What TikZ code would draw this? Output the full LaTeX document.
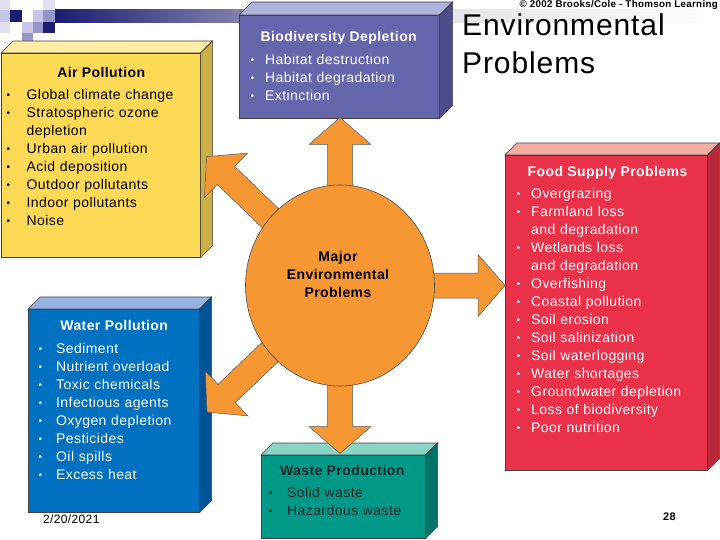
\documentclass[tikz,border=0pt]{standalone}
\usepackage{fontspec}
\setmainfont{Liberation Sans}[LetterSpace=3.0]
\usetikzlibrary{shapes.geometric}
\setlength\parindent{0pt}

\definecolor{navy}{RGB}{28,28,112}
\definecolor{lavA}{RGB}{224,224,242}
\definecolor{lavB}{RGB}{198,198,232}
\definecolor{lavC}{RGB}{150,150,205}
\definecolor{barend}{RGB}{226,226,230}
\definecolor{airfront}{RGB}{253,217,86}
\definecolor{airtop}{RGB}{255,237,165}
\definecolor{airside}{RGB}{205,175,72}
\definecolor{biofront}{RGB}{102,102,172}
\definecolor{biotop}{RGB}{178,178,222}
\definecolor{bioside}{RGB}{76,76,138}
\definecolor{waterfront}{RGB}{0,112,192}
\definecolor{watertop}{RGB}{150,180,226}
\definecolor{waterside}{RGB}{0,84,150}
\definecolor{foodfront}{RGB}{233,49,73}
\definecolor{foodtop}{RGB}{245,172,162}
\definecolor{foodside}{RGB}{186,40,60}
\definecolor{wastefront}{RGB}{0,153,136}
\definecolor{wastetop}{RGB}{138,212,198}
\definecolor{wasteside}{RGB}{0,115,104}
\definecolor{arroworange}{RGB}{247,151,51}

\newcommand\bul[1]{\makebox[#1pt][l]{\hspace*{0.8pt}\raisebox{1.1pt}{\fontsize{10}{10}\selectfont •}}}
\newcommand\boxfaces[4]{%
  \filldraw[boxface, fill=#3] (#1.north west) -- ++(#2,-#2) -- ([shift={(#2,-#2)}]#1.north east) -- (#1.north east) -- cycle;
  \filldraw[boxface, fill=#4] (#1.north east) -- ++(#2,-#2) -- ([shift={(#2,-#2)}]#1.south east) -- (#1.south east) -- cycle;
}
\newcommand\blockarrow[3]{%
  \begin{scope}[shift={(#1)}, rotate=#2]
    \filldraw[bigarrow] (0,-12.5) -- (#3-27,-12.5) -- (#3-27,-31) -- (#3,0) -- (#3-27,31) -- (#3-27,12.5) -- (0,12.5) -- cycle;
  \end{scope}}

\tikzset{
  boxface/.style={draw=black!75, line width=0.6pt, line join=miter},
  frontface/.style={boxface, rectangle, inner sep=0pt, anchor=north west},
  heading/.style={font=\fontsize{14}{18}\selectfont\bfseries, inner sep=0pt, anchor=base},
  items/.style={font=\fontsize{14}{18}\selectfont, inner sep=0pt, anchor=base west, align=left, text width=200pt},
  bigarrow/.style={fill=arroworange, draw=black!65, line width=0.5pt, line join=miter},
}

\begin{document}
\begin{tikzpicture}[x=1pt,y=-1pt]
\useasboundingbox (0,0) rectangle (720,540);
\fill[white] (0,0) rectangle (720,540);

% top decoration
\shade[left color=navy, right color=barend] (55,10) rectangle (420,23);
\shade[left color=barend, right color=white] (420,10) rectangle (720,23);
\fill[lavA] (0,0) rectangle (10,10);
\fill[lavB] (0,10) rectangle (10,22);
\fill[lavA] (0,22) rectangle (10,33);
\fill[navy] (10,10) rectangle (22,22);
\fill[lavB] (22,22) rectangle (33,33);
\fill[lavC] (22,33) rectangle (33,42);
\fill[lavB] (33,10) rectangle (43,22);
\fill[lavC] (33,22) rectangle (43,33);
\fill[lavA] (43,0) rectangle (55,10);
\fill[lavC] (43,10) rectangle (55,22);
\fill[navy] (43,22) rectangle (55,33);

% boxes
\node[frontface, fill=airfront, minimum width=199pt, minimum height=204pt] (air) at (1,53) {};
\boxfaces{air}{12}{airtop}{airside}
\node[frontface, fill=biofront, minimum width=200pt, minimum height=103pt] (bio) at (239,15) {};
\boxfaces{bio}{13}{biotop}{bioside}
\node[frontface, fill=waterfront, minimum width=171pt, minimum height=203pt] (water) at (28,309) {};
\boxfaces{water}{12}{watertop}{waterside}
\node[frontface, fill=foodfront, minimum width=202pt, minimum height=315pt] (food) at (505,155) {};
\boxfaces{food}{12}{foodtop}{foodside}
\node[frontface, fill=wastefront, minimum width=164pt, minimum height=83pt] (waste) at (261,455) {};
\boxfaces{waste}{12}{wastetop}{wasteside}

% arrows from the hub
\coordinate (hubc) at (340,285.5);
\blockarrow{hubc}{90}{168}
\blockarrow{hubc}{270}{168}
\blockarrow{hubc}{0}{165}
\blockarrow{hubc}{136}{185.5}
\blockarrow{hubc}{223.6}{183.6}
\node[ellipse, draw=black!70, line width=0.6pt, fill=arroworange, minimum width=189pt, minimum height=201pt, inner sep=0pt] (hub) at (hubc) {};
\node[anchor=base, inner sep=0pt, text width=160pt, align=center, font=\fontsize{14}{18}\selectfont\bfseries] (hubtext) at (338,261) {Major\\Environmental\\Problems};

% texts
\node[heading] (airhead) at (101.2,77.3) {Air Pollution};
\node[items] (airlist) at (5.5,100) {\bul{21}Global climate change\\
\bul{21}Stratospheric ozone\\
\hspace*{21pt}depletion\\
\bul{21}Urban air pollution\\
\bul{21}Acid deposition\\
\bul{21}Outdoor pollutants\\
\bul{21}Indoor pollutants\\
\bul{21}Noise};

\node[heading, text=white] (biohead) at (338.7,41.7) {Biodiversity Depletion};
\node[items, text=white] (biolist) at (249.5,64.3) {\bul{15.5}Habitat destruction\\
\bul{15.5}Habitat degradation\\
\bul{15.5}Extinction};

\node[heading, text=white] (waterhead) at (114.2,330) {Water Pollution};
\node[items, text=white] (waterlist) at (37.5,353.3) {\bul{18.5}Sediment\\
\bul{18.5}Nutrient overload\\
\bul{18.5}Toxic chemicals\\
\bul{18.5}Infectious agents\\
\bul{18.5}Oxygen depletion\\
\bul{18.5}Pesticides\\
\bul{18.5}Oil spills\\
\bul{18.5}Excess heat};

\node[heading, text=white] (foodhead) at (607.5,176.7) {Food Supply Problems};
\node[items, text=white] (foodlist) at (515.5,199) {\bul{15.5}Overgrazing\\
\bul{15.5}Farmland loss\\
\hspace*{15.5pt}and degradation\\
\bul{15.5}Wetlands loss\\
\hspace*{15.5pt}and degradation\\
\bul{15.5}Overfishing\\
\bul{15.5}Coastal pollution\\
\bul{15.5}Soil erosion\\
\bul{15.5}Soil salinization\\
\bul{15.5}Soil waterlogging\\
\bul{15.5}Water shortages\\
\bul{15.5}Groundwater depletion\\
\bul{15.5}Loss of biodiversity\\
\bul{15.5}Poor nutrition};

\node[heading, text=black!85] (wastehead) at (342.2,475) {Waste Production};
\node[items, text=black!85] (wastelist) at (267.5,497.7) {\bul{19.5}Solid waste\\
\bul{19.5}Hazardous waste};

% title, notes
\node[anchor=base west, inner sep=0pt, text width=250pt, align=left, font=\fontsize{30}{38}\selectfont] (title) at (462,36) {Environmental\\Problems};
\node[anchor=base east, inner sep=0pt, font=\fontsize{9.8}{11}\selectfont\bfseries] (copy) at (718,8) {© 2002 Brooks/Cole - Thomson Learning};
\node[anchor=base west, inner sep=0pt, font=\fontsize{12}{14}\selectfont] (date) at (43,523) {2/20/2021};
\node[anchor=base, inner sep=0pt, font=\fontsize{11}{13}\selectfont\bfseries] (page) at (669.5,520) {28};
\end{tikzpicture}
\end{document}
